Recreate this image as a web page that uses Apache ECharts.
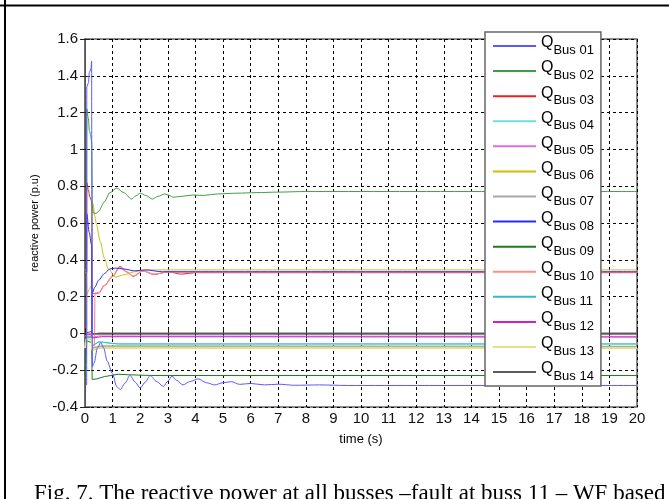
<!DOCTYPE html>
<html>
<head>
<meta charset="utf-8">
<title>Reactive power at all busses</title>
<script src="https://cdn.jsdelivr.net/npm/echarts@6/dist/echarts.min.js"></script>
<style>
  html, body { margin: 0; padding: 0; background: #fff; }
  #div_chart { width: 669px; height: 499px; }
</style>
</head>
<body>
<div id="div_chart"></div>
<script>
// time ticks and value ticks of the axes
var timeTicks = [0, 20, 1];
var qTicks = [-0.4, 1.6, 0.2];

var busNames = ['Bus 01', 'Bus 02', 'Bus 03', 'Bus 04', 'Bus 05', 'Bus 06', 'Bus 07',
    'Bus 08', 'Bus 09', 'Bus 10', 'Bus 11', 'Bus 12', 'Bus 13', 'Bus 14'];
var busColors = ['#5a5aff', '#3f9f3f', '#ee2020', '#70dede', '#dd70dd', '#c8c400', '#a8a8a8',
    '#2a2aff', '#1f7a1f', '#ff8c8c', '#30bcc8', '#cc20cc', '#e2e088', '#5c5c5c'];
var busWidths = [1, 1, 1, 1, 1, 1, 2, 1, 1, 1.2, 1, 1, 2, 1];

// [time (s), Q (p.u)]
var qBus01 = [[0, -0.28], [0.06, -0.28], [0.065, 1.34], [0.12, 1.36], [0.16, 1.42], [0.22, 1.44],
    [0.24, 1.48], [0.245, 1.04], [0.27, -0.18], [0.33, -0.16], [0.45, -0.08], [0.57, -0.05],
    [0.68, -0.08], [0.8, -0.15], [1.0, -0.22], [1.15, -0.29], [1.28, -0.305], [1.45, -0.27],
    [1.63, -0.228], [1.82, -0.265], [2.0, -0.297], [2.18, -0.265], [2.36, -0.229], [2.6, -0.262],
    [2.84, -0.288], [3.0, -0.26], [3.15, -0.232], [3.32, -0.255], [3.55, -0.28], [3.8, -0.262],
    [4.1, -0.247], [4.4, -0.268], [4.7, -0.28], [5.0, -0.268], [5.3, -0.262], [5.6, -0.277],
    [6.0, -0.272], [6.5, -0.28], [7.0, -0.276], [7.6, -0.282], [8.5, -0.28], [9.5, -0.283],
    [20, -0.283]];
var qBus02 = [[0, 0.77], [0.06, 0.77], [0.065, 1.22], [0.12, 1.17], [0.16, 1.1], [0.2, 1.08],
    [0.24, 1.04], [0.26, 0.7], [0.3, 0.655], [0.4, 0.652], [0.5, 0.665], [0.7, 0.715],
    [0.9, 0.765], [1.15, 0.79], [1.4, 0.765], [1.69, 0.73], [1.85, 0.748], [2.0, 0.762],
    [2.2, 0.75], [2.44, 0.73], [2.65, 0.745], [2.89, 0.758], [3.05, 0.75], [3.2, 0.74],
    [3.5, 0.745], [3.9, 0.752], [4.3, 0.75], [4.8, 0.758], [5.5, 0.762], [6.2, 0.765],
    [7.0, 0.768], [8.0, 0.771], [20, 0.771]];
var qBus03 = [[0, 0.33], [0.06, 0.33], [0.065, 0.82], [0.12, 0.78], [0.18, 0.74], [0.24, 0.72],
    [0.26, 0.22], [0.35, 0.215], [0.5, 0.22], [0.7, 0.26], [1.0, 0.31], [1.27, 0.365],
    [1.5, 0.335], [1.75, 0.31], [2.1, 0.34], [2.5, 0.32], [3.0, 0.335], [3.5, 0.322],
    [4.0, 0.33], [20, 0.33]];
var qBus04 = [[0, -0.056], [0.06, -0.056], [0.065, -0.03], [0.24, -0.03], [0.26, -0.065],
    [0.45, -0.05], [0.7, -0.05], [1.0, -0.056], [20, -0.056]];
var qBus05 = [[0, -0.016], [0.06, -0.016], [0.065, -0.005], [0.24, -0.005], [0.26, -0.02],
    [0.5, -0.014], [20, -0.016]];
var qBus06 = [[0, 0.345], [0.06, 0.345], [0.065, 0.21], [0.15, 0.24], [0.24, 0.26], [0.25, 0.72],
    [0.3, 0.7], [0.35, 0.64], [0.42, 0.59], [0.55, 0.5], [0.7, 0.41], [0.85, 0.35], [1.1, 0.306],
    [1.4, 0.318], [1.8, 0.335], [2.2, 0.345], [3.0, 0.345], [20, 0.345]];
var qBus07 = [[0, -0.072], [0.06, -0.072], [0.065, -0.02], [0.24, -0.02], [0.26, -0.08],
    [0.6, -0.07], [20, -0.072]];
var qBus08 = [[0, 0.335], [0.06, 0.335], [0.065, 0.65], [0.15, 0.55], [0.24, 0.48], [0.25, 0.0],
    [0.27, 0.22], [0.35, 0.25], [0.5, 0.29], [0.7, 0.325], [0.9, 0.35], [1.1, 0.355],
    [1.4, 0.35], [1.8, 0.34], [2.2, 0.345], [2.8, 0.335], [4.0, 0.335], [20, 0.335]];
var qBus09 = [[0, -0.23], [0.06, -0.23], [0.065, -0.04], [0.24, -0.05], [0.26, -0.25],
    [0.4, -0.248], [0.7, -0.235], [1.2, -0.222], [1.6, -0.225], [2.5, -0.229], [20, -0.229]];
var qBus10 = [[0, 0.333], [0.06, 0.333], [0.065, 0.0], [0.24, 0.0], [0.26, -0.08], [0.34, -0.08],
    [0.36, 0.22], [0.5, 0.22], [0.7, 0.26], [1.0, 0.31], [1.27, 0.36], [1.5, 0.335],
    [1.75, 0.312], [2.1, 0.338], [2.5, 0.322], [3.0, 0.333], [4.0, 0.333], [20, 0.333]];
var qBus11 = [[0, -0.06], [0.06, -0.06], [0.065, -0.02], [0.24, -0.02], [0.26, -0.07],
    [0.5, -0.045], [0.8, -0.05], [1.2, -0.058], [20, -0.058]];
var qBus12 = [[0, -0.02], [0.06, -0.02], [0.065, -0.008], [0.24, -0.008], [0.26, -0.025],
    [0.6, -0.018], [20, -0.02]];
var qBus13 = [[0, -0.08], [0.06, -0.08], [0.065, -0.03], [0.24, -0.03], [0.26, -0.09],
    [0.5, -0.078], [20, -0.08]];
var qBus14 = [[0, 0.002], [0.06, 0.002], [0.065, 0.01], [0.24, 0.01], [0.26, -0.005],
    [0.5, 0.002], [20, 0.002]];

var busData = [qBus01, qBus02, qBus03, qBus04, qBus05, qBus06, qBus07,
    qBus08, qBus09, qBus10, qBus11, qBus12, qBus13, qBus14];

var fontName = 'Liberation Sans, Arial, sans-serif';

// the curves that swing get a little smoothing, the blue ones sit on top
var smoothed = [0, 1, 2, 5, 7, 9];
var onTop = {0: 5, 7: 4, 1: 3};

var dataSeries = [];
for (var i = 0; i < busNames.length; i++) {
    dataSeries.push({
        name: busNames[i],
        type: 'line',
        z: onTop[i] || 2,
        showSymbol: false,
        symbol: 'none',
        smooth: smoothed.indexOf(i) >= 0 ? 0.3 : false,
        smoothMonotone: 'x',
        data: busData[i],
        color: busColors[i],
        lineStyle: {width: busWidths[i], color: busColors[i]}
    });
}

var dashGrid = {show: true, lineStyle: {color: '#000', type: [3, 3], width: 1}};
var inTick = {show: true, inside: true, length: 5, lineStyle: {color: '#222'}};

var myChart = echarts.init(document.getElementById('div_chart'));
var option = {
    animation: false,
    backgroundColor: '#fff',
    textStyle: {fontFamily: fontName},
    grid: {
        left: 85, top: 39, right: 32, bottom: 92,
        show: true, borderColor: '#666', borderWidth: 1.5, backgroundColor: '#fff'
    },
    legend: {
        orient: 'vertical',
        left: 485,
        top: 32,
        z: 10,
        padding: [3, 7, 3, 8],
        itemGap: 3.08,
        itemWidth: 43,
        itemHeight: 2,
        icon: 'rect',
        backgroundColor: '#fff',
        borderColor: '#666',
        borderWidth: 1.5,
        data: busNames,
        formatter: function (name) {
            return '{q|Q}{s|' + name + '}';
        },
        textStyle: {
            rich: {
                q: {fontSize: 16, color: '#000', lineHeight: 22, verticalAlign: 'top', fontFamily: fontName},
                s: {fontSize: 13, color: '#000', lineHeight: 22, verticalAlign: 'bottom', fontFamily: fontName}
            }
        }
    },
    xAxis: [{
        type: 'value',
        min: timeTicks[0], max: timeTicks[1], interval: timeTicks[2],
        name: 'time (s)',
        nameLocation: 'middle',
        nameGap: 26,
        nameTextStyle: {fontSize: 13, color: '#000', fontFamily: fontName},
        axisLine: {show: true, lineStyle: {color: '#222'}},
        axisTick: inTick,
        axisLabel: {fontSize: 15, color: '#111', margin: 4, fontFamily: fontName},
        splitLine: dashGrid
    }, {
        type: 'value', position: 'top',
        min: timeTicks[0], max: timeTicks[1], interval: timeTicks[2],
        axisLine: {show: true, lineStyle: {color: '#666', width: 1.5}},
        axisTick: inTick,
        axisLabel: {show: false},
        splitLine: {show: false}
    }],
    yAxis: [{
        type: 'value',
        min: qTicks[0], max: qTicks[1], interval: qTicks[2],
        name: 'reactive power (p.u)',
        nameLocation: 'middle',
        nameGap: 45,
        nameTextStyle: {fontSize: 11, color: '#000', fontFamily: fontName},
        axisLine: {show: true, lineStyle: {color: '#222'}},
        axisTick: inTick,
        axisLabel: {fontSize: 15, color: '#111', margin: 7, fontFamily: fontName},
        splitLine: dashGrid
    }, {
        type: 'value', position: 'right',
        min: qTicks[0], max: qTicks[1], interval: qTicks[2],
        axisLine: {show: true, lineStyle: {color: '#666', width: 1.5}},
        axisTick: inTick,
        axisLabel: {show: false},
        splitLine: {show: false}
    }],
    graphic: [
        {type: 'line', shape: {x1: 0, y1: 5.5, x2: 669, y2: 5.5}, style: {stroke: '#000', lineWidth: 2}},
        {type: 'line', shape: {x1: 5, y1: 0, x2: 5, y2: 499}, style: {stroke: '#000', lineWidth: 2}},
        {
            type: 'text', left: 34, top: 482,
            style: {
                text: 'Fig. 7. The reactive power at all busses \u2013fault at buss 11 \u2013 WF based',
                font: '23px "Liberation Serif", "Times New Roman", serif',
                fill: '#000'
            }
        }
    ],
    series: dataSeries
};
myChart.setOption(option);
</script>
</body>
</html>
